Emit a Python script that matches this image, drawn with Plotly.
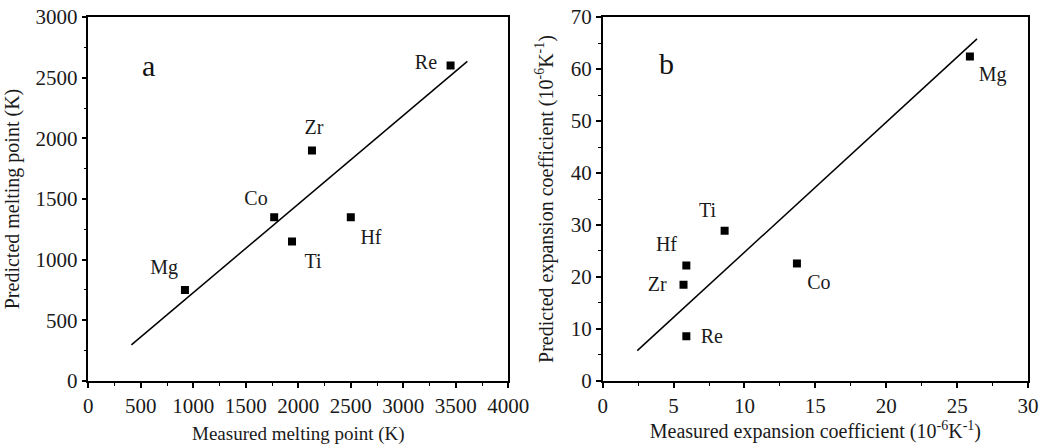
import plotly.graph_objects as go

# Panel a: melting point
elements_a = ["Mg", "Co", "Ti", "Zr", "Hf", "Re"]
meas_melt = [920, 1770, 1940, 2130, 2500, 3450]
pred_melt = [750, 1350, 1150, 1900, 1350, 2600]
fit_a_x = [410, 3610]
fit_a_y = [297, 2635]
lab_a_x = [721, 1597, 2140, 2150, 2692, 3216]
lab_a_y = [924, 1493, 973, 2079, 1171, 2615]

# Panel b: expansion coefficient
elements_b = ["Mg", "Ti", "Hf", "Zr", "Re", "Co"]
meas_exp = [25.9, 8.6, 5.9, 5.7, 5.9, 13.7]
pred_exp = [62.4, 28.9, 22.2, 18.5, 8.6, 22.6]
fit_b_x = [2.44, 26.4]
fit_b_y = [5.84, 65.8]
lab_b_x = [27.5, 7.4, 4.5, 3.85, 7.7, 15.25]
lab_b_y = [58.6, 32.5, 25.9, 18.3, 8.3, 18.7]

FONT = "Liberation Serif"
TXT = "#1a1a1a"
fig = go.Figure()

fig.add_trace(go.Scatter(x=fit_a_x, y=fit_a_y, mode="lines",
                         line=dict(color="black", width=1.5), xaxis="x", yaxis="y", showlegend=False))
fig.add_trace(go.Scatter(x=meas_melt, y=pred_melt, mode="markers",
                         marker=dict(symbol="square", size=8, color="black"), xaxis="x", yaxis="y", showlegend=False))
fig.add_trace(go.Scatter(x=lab_a_x, y=lab_a_y, mode="text", text=elements_a,
                         textfont=dict(family=FONT, size=20, color=TXT), xaxis="x", yaxis="y", showlegend=False))

fig.add_trace(go.Scatter(x=fit_b_x, y=fit_b_y, mode="lines",
                         line=dict(color="black", width=1.5), xaxis="x2", yaxis="y2", showlegend=False))
fig.add_trace(go.Scatter(x=meas_exp, y=pred_exp, mode="markers",
                         marker=dict(symbol="square", size=8, color="black"), xaxis="x2", yaxis="y2", showlegend=False))
fig.add_trace(go.Scatter(x=lab_b_x, y=lab_b_y, mode="text", text=elements_b,
                         textfont=dict(family=FONT, size=20, color=TXT), xaxis="x2", yaxis="y2", showlegend=False))

def ax(minor_dtick, **kw):
    d = dict(showline=True, mirror=True, linecolor="black", linewidth=1.5,
             ticks="outside", ticklen=5, tickwidth=1.5, tickcolor="black",
             showgrid=False, zeroline=False, automargin=False,
             tickfont=dict(family=FONT, size=21, color=TXT),
             minor=dict(ticks="outside", ticklen=3, tickwidth=1.2, tickcolor="black", dtick=minor_dtick))
    d.update(kw)
    return d

fig.update_layout(
    width=1042, height=448,
    margin=dict(l=0, r=0, t=0, b=0),
    paper_bgcolor="white", plot_bgcolor="white",
    xaxis=ax(250, domain=[0.0848, 0.4878], range=[0, 4000], dtick=500, anchor="y",
             title=dict(text="Measured melting point (K)", font=dict(family=FONT, size=19, color=TXT), standoff=10)),
    yaxis=ax(250, domain=[0.1496, 0.962], range=[0, 3000], dtick=500, anchor="x",
             title=dict(text="Predicted melting point (K)", font=dict(family=FONT, size=20, color=TXT), standoff=10)),
    xaxis2=ax(2.5, domain=[0.5784, 0.9866], range=[0, 30], dtick=5, anchor="y2",
              title=dict(text="Measured expansion coefficient (10<sup>-6</sup>K<sup>-1</sup>)", font=dict(family=FONT, size=20, color=TXT), standoff=3)),
    yaxis2=ax(5, domain=[0.1496, 0.962], range=[0, 70], dtick=10, anchor="x2",
              title=dict(text="Predicted expansion coefficient (10<sup>-6</sup>K<sup>-1</sup>)", font=dict(family=FONT, size=20, color=TXT), standoff=12)),
    annotations=[
        dict(text="a", x=569, y=2600, xref="x", yref="y", showarrow=False,
             font=dict(family=FONT, size=30, color="#111")),
        dict(text="b", x=4.5, y=61.1, xref="x2", yref="y2", showarrow=False,
             font=dict(family=FONT, size=30, color="#111")),
    ],
)

fig.write_html("out.html", config={"displayModeBar": False},
               post_script="document.body.style.margin='0';document.body.style.overflow='hidden';")
